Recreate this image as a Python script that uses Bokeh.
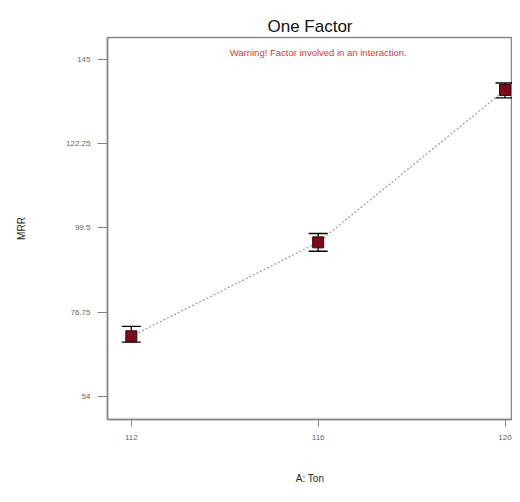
from bokeh.plotting import figure
from bokeh.models import Range1d, FixedTicker, Whisker, TeeHead, ColumnDataSource, Label
from bokeh.embed import file_html
from bokeh.resources import INLINE

# data
ton = [112, 116, 120]
mrr = [70.2, 95.6, 136.8]
mrr_upper = [72.9, 98.0, 138.7]
mrr_lower = [68.6, 93.2, 134.7]
x_ticks = [112, 116, 120]
y_ticks = [54, 76.75, 99.5, 122.25, 145]
y_tick_labels = ["54", "76.75", "99.5", "122.25", "145"]

FONT = "'Liberation Sans', Arial, sans-serif"

p = figure(width=512, height=486, output_backend="svg", toolbar_location=None,
           x_range=Range1d(111.49, 120.16), y_range=Range1d(47.7, 151.0),
           min_border_left=107, min_border_right=0, min_border_top=37, min_border_bottom=63)

p.title.text = "One Factor"
p.title.align = "center"
p.title.text_font = FONT
p.title.text_font_size = "17px"
p.title.text_font_style = "normal"
p.title.text_color = "#111111"
p.title.standoff = 3

p.grid.visible = False
p.outline_line_color = "#888888"
p.outline_line_width = 1.5
p.background_fill_color = "white"
p.border_fill_color = "white"

p.xaxis.ticker = FixedTicker(ticks=x_ticks)
p.yaxis.ticker = FixedTicker(ticks=y_ticks)
p.yaxis.major_label_overrides = {t: l for t, l in zip(y_ticks, y_tick_labels)}

for ax in (p.xaxis, p.yaxis):
    ax.axis_line_color = "#888888"
    ax.axis_line_width = 1.5
    ax.major_tick_line_color = "#888888"
    ax.major_tick_in = 0
    ax.minor_tick_line_color = None
    ax.major_label_text_font = FONT
    ax.major_label_text_font_size = "8px"
    ax.major_label_text_color = "#666666"
    ax.axis_label_text_font = FONT
    ax.axis_label_text_font_size = "10px"
    ax.axis_label_text_font_style = "normal"
    ax.axis_label_text_color = "#222222"

p.yaxis.major_tick_out = 10
p.yaxis.major_label_standoff = 7
p.yaxis.axis_label = "MRR"
p.yaxis.axis_label_standoff = 36
p.xaxis.major_tick_out = 7
p.xaxis.major_label_standoff = 8
p.xaxis.axis_label = "A: Ton"
p.xaxis.axis_label_standoff = 30

src = ColumnDataSource(dict(x=ton, y=mrr, upper=mrr_upper, lower=mrr_lower))

p.line("x", "y", source=src, line_color="#9a9a9a", line_dash="2 2", line_width=1.2)

w = Whisker(base="x", upper="upper", lower="lower", source=src, line_color="black", line_width=1.3,
            upper_head=TeeHead(size=19, line_color="black", line_width=1.3),
            lower_head=TeeHead(size=19, line_color="black", line_width=1.3))
p.add_layout(w)

p.scatter("x", "y", source=src, marker="square", size=11, fill_color="#7a0c1c", line_color="#3a0008")

warn = Label(x=116, y=147.0, text="Warning! Factor involved in an interaction.",
             text_align="center", text_baseline="middle", text_font=FONT,
             text_font_size="9.5px", text_color="#d03a3a")
p.add_layout(warn)

open("out.html", "w").write(file_html(p, INLINE))
